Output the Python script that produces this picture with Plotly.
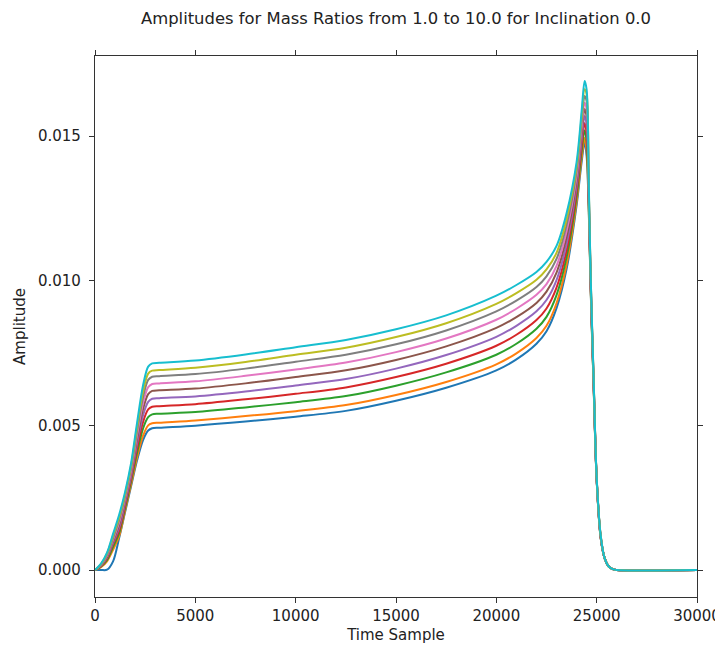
import plotly.graph_objects as go

time_sample = [0, 300, 600, 900, 1200, 1500, 1800, 2100, 2400, 2650, 2850, 3200,
               5000, 7500, 10000, 12500, 15000, 17500, 20000, 21000, 22000, 22500,
               23000, 23500, 24000, 24250, 24400, 24500, 24600, 24700, 24850, 25000,
               25200, 25400, 25600, 25800, 26000, 30000]

mass_ratio_labels = ["1.0", "2.0", "3.0", "4.0", "5.0", "6.0", "7.0", "8.0", "9.0", "10.0"]

amp_q1 = [0, 0, 0.00001, 0.0003, 0.0011, 0.0020, 0.0029, 0.0038, 0.0045, 0.00482, 0.0049, 0.00492,
          0.00499, 0.00513, 0.0053, 0.0055, 0.00585, 0.0063, 0.0069, 0.00728, 0.00782, 0.00825,
          0.00905, 0.0104, 0.0126, 0.0141, 0.01478, 0.0143, 0.0126, 0.0097, 0.0063, 0.0031,
          0.0011, 0.0004, 0.00012, 0.00003, 0, 0]
amp_q2 = [0, 0.0001, 0.0003, 0.0007, 0.00116, 0.00206, 0.00296, 0.0039, 0.00465, 0.0050, 0.00507, 0.00509,
          0.00517, 0.00532, 0.00549, 0.0057, 0.00605, 0.0065, 0.00711, 0.00749, 0.00802, 0.00844,
          0.00922, 0.01055, 0.01272, 0.01424, 0.01494, 0.01449, 0.01268, 0.00974, 0.00632, 0.00311,
          0.00111, 0.0004, 0.00012, 0.00003, 0, 0]
amp_q3 = [0, 0.00012, 0.00035, 0.0008, 0.00127, 0.00215, 0.00307, 0.00407, 0.0049, 0.00528, 0.00538, 0.0054,
          0.00546, 0.00562, 0.0058, 0.00601, 0.00637, 0.00683, 0.00744, 0.00782, 0.00834, 0.00875,
          0.0095, 0.01081, 0.01292, 0.01447, 0.0152, 0.0148, 0.01281, 0.0098, 0.00636, 0.00312,
          0.00112, 0.0004, 0.00012, 0.00003, 0, 0]
amp_q4 = [0, 0.00014, 0.0004, 0.0009, 0.00136, 0.00223, 0.00316, 0.00423, 0.00513, 0.00555, 0.00564, 0.00566,
          0.00573, 0.0059, 0.00609, 0.00631, 0.00667, 0.00713, 0.00775, 0.00813, 0.00864, 0.00904,
          0.00976, 0.01104, 0.0131, 0.01468, 0.01545, 0.01509, 0.01293, 0.00987, 0.0064, 0.00313,
          0.00113, 0.0004, 0.00012, 0.00003, 0, 0]
amp_q5 = [0, 0.00015, 0.00043, 0.00095, 0.00146, 0.00232, 0.00326, 0.00439, 0.00536, 0.00581, 0.00592, 0.00594,
          0.006, 0.00617, 0.00638, 0.0066, 0.00696, 0.00743, 0.00806, 0.00844, 0.00894, 0.00933,
          0.01002, 0.01127, 0.01328, 0.01489, 0.01569, 0.01538, 0.01305, 0.00993, 0.00644, 0.00315,
          0.00114, 0.0004, 0.00012, 0.00003, 0, 0]
amp_q6 = [0, 0.00016, 0.00046, 0.001, 0.00156, 0.0024, 0.00336, 0.00454, 0.00558, 0.00608, 0.00619, 0.00621,
          0.00627, 0.00645, 0.00667, 0.0069, 0.00726, 0.00773, 0.00837, 0.00874, 0.00923, 0.00962,
          0.01028, 0.0115, 0.01346, 0.0151, 0.01593, 0.01567, 0.01317, 0.00999, 0.00647, 0.00316,
          0.00116, 0.0004, 0.00012, 0.00003, 0, 0]
amp_q7 = [0, 0.00018, 0.0005, 0.00105, 0.00164, 0.00248, 0.00344, 0.00468, 0.00579, 0.00632, 0.00643, 0.00645,
          0.00652, 0.00671, 0.00693, 0.00717, 0.00753, 0.008, 0.00865, 0.00903, 0.00951, 0.00988,
          0.01051, 0.01171, 0.01362, 0.01529, 0.01615, 0.01593, 0.01328, 0.01004, 0.0065, 0.00317,
          0.00117, 0.0004, 0.00012, 0.00003, 0, 0]
amp_q8 = [0, 0.00019, 0.00053, 0.0011, 0.00173, 0.00255, 0.00353, 0.00483, 0.006, 0.00657, 0.00668, 0.0067,
          0.00677, 0.00696, 0.0072, 0.00744, 0.0078, 0.00828, 0.00894, 0.00931, 0.00978, 0.01015,
          0.01075, 0.01192, 0.01379, 0.01548, 0.01638, 0.0162, 0.01339, 0.0101, 0.00654, 0.00318,
          0.00118, 0.0004, 0.00012, 0.00003, 0, 0]
amp_q9 = [0, 0.0002, 0.00057, 0.00118, 0.00181, 0.00262, 0.00361, 0.00496, 0.00619, 0.00679, 0.00689, 0.00691,
          0.00699, 0.00719, 0.00744, 0.00768, 0.00805, 0.00853, 0.0092, 0.00957, 0.01003, 0.01039,
          0.01096, 0.01212, 0.01394, 0.01566, 0.01662, 0.01644, 0.01349, 0.01015, 0.00657, 0.00319,
          0.00119, 0.0004, 0.00012, 0.00003, 0, 0]
amp_q10 = [0, 0.00022, 0.0006, 0.00125, 0.0019, 0.0027, 0.0037, 0.0051, 0.0064, 0.00703, 0.00714, 0.00716,
           0.00724, 0.00745, 0.0077, 0.00795, 0.00832, 0.0088, 0.00948, 0.00985, 0.0103, 0.01065,
           0.0112, 0.01233, 0.0141, 0.01585, 0.0169, 0.0166, 0.0136, 0.0102, 0.0066, 0.0032,
           0.0012, 0.0004, 0.00012, 0.00003, 0, 0]

series = [amp_q1, amp_q2, amp_q3, amp_q4, amp_q5, amp_q6, amp_q7, amp_q8, amp_q9, amp_q10]
colors = ['#1f77b4', '#ff7f0e', '#2ca02c', '#d62728', '#9467bd',
          '#8c564b', '#e377c2', '#7f7f7f', '#bcbd22', '#17becf']

fig = go.Figure()
for name, ys, c in zip(mass_ratio_labels, series, colors):
    fig.add_trace(go.Scatter(x=time_sample, y=ys, mode='lines', name=name,
                             line=dict(color=c, width=2, shape='spline', smoothing=0.9)))

# the page body adds an 8px offset at top/left, so the figure is 8px smaller
W, H = 715, 639
font_family = "DejaVu Sans"
fig.update_layout(
    width=W, height=H,
    margin=dict(l=87, r=26, t=48, b=50),
    paper_bgcolor='white', plot_bgcolor='white',
    showlegend=False,
    font=dict(family=font_family, size=15, color='#222222'),
    title=dict(text="Amplitudes for Mass Ratios from 1.0 to 10.0 for Inclination 0.0",
               x=(396 - 8) / W, xanchor='center', y=1 - 10 / H, yanchor='middle',
               xref='container', yref='container',
               font=dict(family=font_family, size=16.4, color='#222222')),
)
axis_common = dict(showgrid=False, zeroline=False, showline=True, linecolor='#333333', linewidth=1.2,
                   mirror='ticks', ticks='outside', ticklen=5, tickcolor='#333333',
                   automargin=False, tickfont=dict(size=15))
fig.update_xaxes(range=[0, 30000], tickvals=[0, 5000, 10000, 15000, 20000, 25000, 30000],
                 ticktext=["0", "5000", "10000", "15000", "20000", "25000", "30000"],
                 title=dict(text="Time Sample", standoff=5, font=dict(size=15)), **axis_common)
fig.update_yaxes(range=[-0.000933, 0.017765], tickvals=[0, 0.005, 0.010, 0.015],
                 ticktext=["0.000", "0.005", "0.010", "0.015"], ticklabelstandoff=5,
                 title=dict(text="Amplitude", standoff=8, font=dict(size=15)), **axis_common)

fig.write_html("out.html")
